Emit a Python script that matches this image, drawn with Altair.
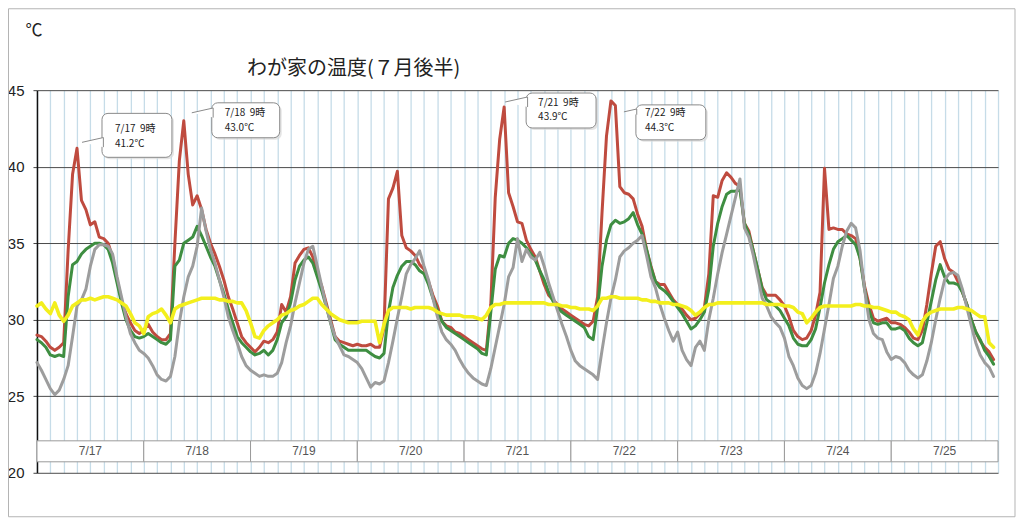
import altair as alt
import pandas as pd

# ---------------- data ----------------
days = ["7/17", "7/18", "7/19", "7/20", "7/21", "7/22", "7/23", "7/24", "7/25"]
title_text = "わが家の温度(７月後半)"
unit_text = "℃"

# hourly readings, 7/17 0時 .. 7/25 23時
red = [
    29.0, 28.9, 28.6, 28.2, 28.0, 28.2, 28.5, 34.5, 39.5, 41.2, 37.8, 37.2,
    36.2, 36.4, 35.4, 35.3, 35.0, 34.1, 32.6, 31.3, 30.4, 29.8, 29.3, 29.1,
    29.3, 29.7, 29.2, 28.9, 28.7, 28.7, 29.1, 35.0, 40.4, 43.0, 39.5, 37.5,
    38.1, 37.2, 35.9, 35.0, 34.3, 33.5, 32.6, 31.5, 30.7, 29.8, 28.9, 28.5,
    28.2, 27.9, 28.2, 28.6, 28.5, 28.7, 29.2, 31.0, 30.5, 31.5, 33.7, 34.2,
    34.6, 34.7, 34.1, 33.0, 32.2, 31.1, 30.0, 28.9, 28.6, 28.5, 28.4, 28.3,
    28.4, 28.3, 28.3, 28.4, 28.2, 28.2, 29.5, 37.9, 38.6, 39.7, 35.5, 34.7,
    34.5, 34.2, 33.6, 33.3, 32.5, 31.6, 30.9, 29.9, 29.6, 29.5, 29.2, 29.1,
    28.9, 28.7, 28.5, 28.3, 28.1, 28.0, 31.0, 38.0, 41.8, 43.9, 38.3, 37.4,
    36.4, 36.3, 35.2, 34.6, 34.1, 33.2, 32.3, 31.6, 31.3, 31.0, 30.7, 30.5,
    30.3, 30.1, 29.9, 29.7, 29.6, 29.9, 31.5, 37.0, 42.0, 44.3, 44.0, 38.7,
    38.3, 38.2, 37.9, 36.9, 36.1, 34.6, 33.5, 32.5, 32.3, 32.3, 31.8, 31.3,
    31.0, 30.7, 30.3, 30.0, 30.1, 30.4, 30.8, 33.0, 38.1, 38.0, 39.1, 39.6,
    39.3, 38.9, 38.7, 36.3, 35.8, 34.5, 33.3, 32.1, 31.6, 31.6, 31.6, 31.3,
    30.9, 30.2, 29.3, 28.9, 28.7, 28.8, 29.3, 30.3, 31.8, 39.9, 35.9, 36.0,
    35.9, 35.9, 35.6, 35.5, 35.3, 34.0, 32.2, 31.0, 30.1, 29.9, 30.0, 30.1,
    29.8, 29.8, 29.7, 29.5, 29.2, 28.8, 28.7, 29.3, 31.0, 33.0, 34.8, 35.1,
    34.0, 33.3, 33.1, 32.5, 31.8, 31.0, 30.0, 29.2, 28.6, 28.2, 27.9, 27.4,
]
green = [
    28.7, 28.5, 28.2, 27.7, 27.6, 27.7, 27.6, 31.5, 33.6, 33.8, 34.3, 34.6,
    34.8, 35.0, 35.0, 34.9, 34.6, 33.7, 32.4, 31.1, 30.0, 29.3, 28.9, 28.8,
    28.9, 29.1, 28.9, 28.7, 28.5, 28.4, 28.7, 33.5, 33.9, 35.0, 35.2, 35.4,
    36.1, 35.5, 34.8, 34.1, 33.5, 32.6, 31.7, 30.7, 29.8, 28.9, 28.5, 28.2,
    27.9, 27.7, 27.8, 28.0, 27.7, 28.0, 28.7, 29.8, 30.2, 31.1, 32.6, 33.5,
    33.9, 34.1, 33.7, 32.8, 31.9, 30.9, 29.8, 28.7, 28.4, 28.2, 28.0, 28.0,
    28.0, 28.0, 28.0, 27.8, 27.6, 27.5, 27.8, 30.5, 32.1, 32.9, 33.5, 33.8,
    33.8, 33.6, 33.2, 33.0, 32.3, 31.4, 30.6, 29.9, 29.5, 29.3, 29.1, 28.9,
    28.7, 28.5, 28.3, 28.1, 27.8, 27.7, 30.5, 33.3, 34.2, 34.1, 35.0, 35.3,
    35.2, 35.0, 34.7, 34.3, 33.9, 33.2, 32.6, 31.8, 31.2, 30.8, 30.5, 30.3,
    30.1, 29.9, 29.7, 29.5, 28.9, 28.7, 30.8, 33.5, 35.2, 36.2, 36.5, 36.3,
    36.4, 36.6, 37.0, 36.2, 35.6, 34.6, 33.4, 32.5, 32.1, 31.9, 31.6, 31.2,
    30.8, 30.4, 29.9, 29.4, 29.6, 30.0, 30.5, 32.0, 34.8, 36.3, 37.4, 38.2,
    38.4, 38.4, 38.5, 36.3, 35.6, 34.5, 33.3, 32.0, 31.3, 31.1, 30.9, 30.6,
    30.1, 29.6, 28.8, 28.4, 28.3, 28.3, 28.7, 29.4, 30.8, 32.4, 33.6, 34.6,
    35.1, 35.3, 35.5, 35.2, 34.9, 34.0, 32.0, 30.6, 29.8, 29.7, 29.8, 29.8,
    29.4, 29.4, 29.5, 29.3, 28.8, 28.5, 28.3, 28.5, 29.8, 31.2, 32.6, 33.6,
    32.8, 32.4, 32.4, 32.3, 31.8, 31.0, 30.0, 29.2, 28.7, 28.0, 27.6, 27.1,
]
gray = [
    27.2, 26.7, 26.1, 25.5, 25.1, 25.4, 26.1, 27.0, 28.9, 30.9, 31.3, 32.0,
    33.5, 34.6, 34.9, 34.9, 34.8, 34.3, 32.8, 31.5, 30.2, 29.1, 28.5, 28.0,
    27.8, 27.5, 27.0, 26.4, 26.1, 26.0, 26.3, 27.6, 29.8, 31.5, 32.8, 33.5,
    34.8, 37.3, 35.8, 34.6, 33.7, 32.6, 31.5, 30.2, 29.3, 28.5, 27.6, 27.0,
    26.7, 26.5, 26.3, 26.4, 26.3, 26.3, 26.5, 27.2, 28.5, 29.6, 31.1, 32.4,
    33.7, 34.6, 34.8, 33.5, 32.2, 30.9, 29.8, 28.9, 28.3, 27.7, 27.6, 27.4,
    27.2, 26.8, 26.2, 25.6, 25.9, 25.8, 26.0, 27.2, 28.6, 30.1, 31.5, 33.0,
    33.6, 34.0, 34.5, 33.5, 32.6, 31.4, 30.2, 29.2, 28.7, 28.4, 28.0, 27.4,
    26.9, 26.5, 26.2, 26.0, 25.8, 25.7, 26.8, 28.2, 29.6, 31.0, 32.8, 33.4,
    35.3, 33.8, 34.6, 34.1, 33.9, 34.4, 33.5, 32.4, 31.5, 30.6, 29.7, 28.9,
    28.0, 27.3, 27.0, 26.8, 26.6, 26.4, 26.1, 28.0, 29.8, 31.4, 32.6, 34.1,
    34.5, 34.7, 35.0, 35.2, 35.5, 34.2, 32.8, 32.1, 31.0, 30.1, 29.3, 28.6,
    29.2, 28.0, 27.4, 27.0, 28.2, 28.6, 28.0, 30.0, 31.4, 33.0, 34.4, 35.6,
    36.8, 38.0, 39.2, 36.0, 35.4, 34.2, 32.8, 31.4, 30.9, 30.2, 29.8, 29.5,
    28.8, 27.6, 27.0, 26.2, 25.7, 25.5, 25.7, 26.5, 27.8, 29.4, 31.0, 32.7,
    33.5, 34.8, 35.8, 36.3, 36.0, 34.5, 32.0, 30.0, 29.1, 28.8, 28.7, 27.9,
    27.4, 27.6, 27.5, 27.2, 26.7, 26.4, 26.2, 26.4, 27.3, 28.5, 30.0, 31.4,
    32.6, 33.0, 33.1, 32.9, 32.0, 30.8, 29.6, 28.5, 27.7, 27.2, 26.9, 26.3,
]
yellow = [
    30.9, 31.1, 30.7, 30.4, 31.1, 30.3, 29.9, 30.3, 30.9, 31.1, 31.3, 31.3,
    31.4, 31.3, 31.4, 31.5, 31.5, 31.4, 31.3, 31.1, 30.9, 30.4, 29.8, 29.6,
    29.1, 30.2, 30.4, 30.5, 30.7, 30.3, 29.8, 30.7, 30.9, 31.0, 31.1, 31.2,
    31.3, 31.4, 31.4, 31.4, 31.4, 31.3, 31.3, 31.2, 31.2, 31.1, 31.1, 30.6,
    29.8, 28.9, 28.8, 29.3, 29.6, 29.8, 30.0, 30.3, 30.4, 30.6, 30.7, 30.9,
    31.0, 31.2, 31.4, 31.4, 31.0, 30.7, 30.4, 30.2, 30.0, 29.9, 29.8, 29.8,
    29.8, 29.9, 29.9, 29.9, 29.9, 28.5, 29.7, 30.6, 30.8, 30.8, 30.8, 30.8,
    30.7, 30.8, 30.8, 30.8, 30.8, 30.7, 30.5, 30.4, 30.3, 30.3, 30.3, 30.3,
    30.2, 30.2, 30.2, 30.1, 30.0, 30.3, 30.8, 31.0, 31.0, 31.1, 31.1, 31.1,
    31.1, 31.1, 31.1, 31.1, 31.1, 31.1, 31.1, 31.0, 31.0, 31.0, 30.9, 30.9,
    30.8, 30.8, 30.7, 30.7, 30.7, 30.6, 30.9, 31.4, 31.4, 31.5, 31.5, 31.4,
    31.4, 31.4, 31.4, 31.4, 31.3, 31.3, 31.2, 31.2, 31.1, 31.1, 31.1, 31.0,
    31.0, 30.9, 30.8, 30.6, 30.3, 30.5, 30.8, 31.0, 31.0, 31.1, 31.1, 31.1,
    31.1, 31.1, 31.1, 31.1, 31.1, 31.1, 31.1, 31.1, 31.0, 31.0, 31.0, 31.0,
    30.9, 30.9, 30.8, 30.5, 30.4, 29.8, 30.1, 30.5, 30.8, 30.9, 30.9, 30.9,
    30.9, 30.9, 30.9, 30.9, 31.0, 31.0, 30.9, 30.9, 30.8, 30.8, 30.7, 30.6,
    30.5, 30.5, 30.3, 30.2, 30.0, 29.4, 29.0, 29.9, 30.3, 30.5, 30.6, 30.7,
    30.7, 30.7, 30.7, 30.8, 30.8, 30.7, 30.6, 30.4, 30.2, 30.2, 28.5, 28.2,
]
y_ticks = [20, 25, 30, 35, 40, 45]

# callouts: day and hour of the maxima of the red series
callout_days = ["7/17", "7/18", "7/21", "7/22"]
callout_hour = 9

# ---------------- tables ----------------
n = len(red)
assert len(green) == n and len(gray) == n and len(yellow) == n == 24 * len(days)
df = pd.DataFrame({"hour": list(range(n)), "red": red, "green": green,
                   "gray": gray, "yellow": yellow})
band_df = pd.DataFrame({
    "start": [24 * i for i in range(len(days))],
    "end": [24 * (i + 1) for i in range(len(days))],
    "mid": [24 * i + 12 for i in range(len(days))],
    "label": days,
})
co_hours = [24 * days.index(d) + callout_hour for d in callout_days]
GAP = "\u00a0\u00a0"
co_df = pd.DataFrame({
    "hour": co_hours,
    "value": [red[h] for h in co_hours],
    "l1": [f"{d}{GAP}{callout_hour}時" for d in callout_days],
    "l2": [f"{red[h]:.1f}℃" for h in co_hours],
})

# ---------------- styling ----------------
W, H = 962, 383
FONT = "Liberation Sans"
JP = "Noto Sans CJK JP"
XS = alt.Scale(domain=[0, n], nice=False, zero=False)
YS = alt.Scale(domain=[y_ticks[0], y_ticks[-1]], nice=False, zero=False)
XAX = alt.Axis(values=list(range(0, n + 1, 3)), grid=True, gridColor="#c6dce8",
               gridWidth=1.3, labels=False, ticks=False, domain=False, title="")
YAX = alt.Axis(values=y_ticks, grid=True, gridColor="#4a4a4a", gridWidth=1,
               domain=True, domainColor="#111111", domainWidth=1.5, ticks=True,
               tickColor="#444444", tickSize=4, labelFont=FONT, labelFontSize=15,
               labelColor="#222222", labelPadding=9, title="")


def xe(f):
    return alt.X(f"{f}:Q", scale=XS, axis=XAX)


def ye(f):
    return alt.Y(f"{f}:Q", scale=YS, axis=YAX)


one = pd.DataFrame({"t": [title_text], "u": [unit_text]})

frame = alt.Chart(one).mark_rect(fill="transparent", stroke="#b4b4b4", strokeWidth=1).encode(
    x=alt.value(-28.5), x2=alt.value(979), y=alt.value(-81.5), y2=alt.value(427))
title = alt.Chart(one).mark_text(font=JP, fontSize=20, color="#222222").encode(
    x=alt.value(317), y=alt.value(-21), text="t:N")
unit = alt.Chart(one).mark_text(font=JP, fontSize=17, color="#222222").encode(
    x=alt.value(-3), y=alt.value(-59), text="u:N")

band = alt.Chart(band_df).mark_rect(fill="white", stroke="#9a9a9a", strokeWidth=1).encode(
    x=xe("start"), x2="end", y=alt.value(351), y2=alt.value(372))
band_text = alt.Chart(band_df).mark_text(font=FONT, fontSize=12, color="#555555").encode(
    x=xe("mid"), y=alt.value(361.5), text="label:N")

styles = {"red": ("#bf4b3f", 3), "green": ("#3e8e41", 3),
          "gray": ("#9d9d9d", 3), "yellow": ("#f3ef1d", 3.6)}
lines = [
    alt.Chart(df).mark_line(color=c, strokeWidth=w, strokeJoin="round", strokeCap="round").encode(
        x=xe("hour"), y=ye(k))
    for k, (c, w) in styles.items()
]

# per-callout layout (pixel offsets from the peak): box x1,x2,y1,y2 ; tail tip x,y,length ; text x, y1, y2
co_style = [
    dict(box=(25, 95, -35, 9), tip=(5, -6, 20), tx=38, t1=-19, t2=-4),
    dict(box=(28, 96, -18, 17), tip=(8, -8, 20), tx=41, t1=-7.5, t2=7),
    dict(box=(22, 92, -14, 21), tip=(1, -5, 21), tx=34, t1=-4.5, t2=10),
    dict(box=(25, 95, 4, 39), tip=(13, 11, 12), tx=34, t1=12.5, t2=27),
]
TAIL = "M 0 0 L 1.07 -0.24 L 1.07 0.24"
callouts = []
for i, st in enumerate(co_style):
    sub = co_df.iloc[[i]]
    bx1, bx2, by1, by2 = st["box"]
    tx, ty, tl = st["tip"]
    enc = dict(x=xe("hour"), y=ye("value"))
    shadow = alt.Chart(sub).mark_rect(cornerRadius=6, fill="#d9d9d9", opacity=0.7,
                                      xOffset=bx1 + 2, x2Offset=bx2 + 2,
                                      yOffset=by1 + 2, y2Offset=by2 + 2).encode(
        x2="hour", y2="value", **enc)
    box = alt.Chart(sub).mark_rect(cornerRadius=6, fill="white", stroke="#8a8a8a", strokeWidth=1,
                                   xOffset=bx1, x2Offset=bx2, yOffset=by1, y2Offset=by2).encode(
        x2="hour", y2="value", **enc)
    tail = alt.Chart(sub).mark_point(shape=TAIL, size=4 * tl * tl, filled=True, fill="white",
                                     stroke="#8a8a8a", strokeWidth=1, opacity=1,
                                     xOffset=tx, yOffset=ty).encode(**enc)
    t1 = alt.Chart(sub).mark_text(font=JP, fontSize=10, color="#222222", align="left",
                                  baseline="middle", dx=st["tx"], dy=st["t1"]).encode(text="l1:N", **enc)
    t2 = alt.Chart(sub).mark_text(font=JP, fontSize=10, color="#222222", align="left",
                                  baseline="middle", dx=st["tx"], dy=st["t2"]).encode(text="l2:N", **enc)
    callouts += [shadow, box, tail, t1, t2]

chart = alt.layer(frame, title, unit, band, band_text, *lines, *callouts).properties(
    width=W, height=H,
    autosize=alt.AutoSizeParams(type="none"),
    padding={"left": 29, "top": 82, "right": 18, "bottom": 45},
    background="white",
).configure_view(stroke="transparent")

chart.save("out.html", embed_options={"renderer": "svg", "actions": False})
